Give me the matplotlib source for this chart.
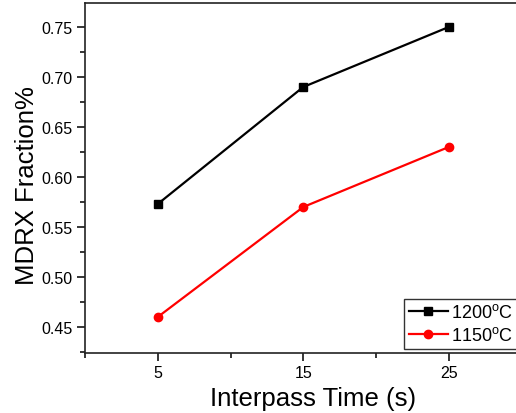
import matplotlib
matplotlib.use("Agg")
import matplotlib.pyplot as plt
from matplotlib.ticker import MultipleLocator

plt.rcParams['font.family'] = ['Liberation Sans', 'DejaVu Sans']
plt.rcParams['mathtext.fontset'] = 'custom'
plt.rcParams['mathtext.rm'] = 'Liberation Sans'
plt.rcParams['mathtext.it'] = 'Liberation Sans'

interpass_time = [5, 15, 25]
frac_1200 = [0.573, 0.690, 0.750]
frac_1150 = [0.460, 0.570, 0.630]
labels = ["1200$^\\mathrm{o}$C", "1150$^\\mathrm{o}$C"]

fig = plt.figure(figsize=(5.16, 4.14), dpi=100)
ax = fig.add_axes([85 / 516, 60 / 414, 436.5 / 516, 350 / 414])

ax.plot(interpass_time, frac_1200, color='black', marker='s', markersize=6,
        linewidth=1.6, label=labels[0])
ax.plot(interpass_time, frac_1150, color='red', marker='o', markersize=6,
        linewidth=1.6, label=labels[1])

ax.set_xlim(0, 30)
ax.set_ylim(0.424, 0.774)
ax.set_xticks([5, 15, 25])
ax.xaxis.set_minor_locator(MultipleLocator(5))
ax.yaxis.set_minor_locator(MultipleLocator(0.025))
ax.set_yticks([0.45, 0.50, 0.55, 0.60, 0.65, 0.70, 0.75])
ax.set_yticklabels(['%.2f' % v for v in ax.get_yticks()])

ax.tick_params(which='major', direction='out', length=6, width=1.1, labelsize=11.5,
               top=False, right=False, pad=3)
ax.tick_params(which='minor', direction='out', length=3.5, width=1.1,
               top=False, right=False)
for sp in ax.spines.values():
    sp.set_linewidth(1.2)
    sp.set_color('#222222')

ax.set_xlabel('Interpass Time (s)', fontsize=18.5)
ax.set_ylabel('MDRX Fraction%', fontsize=18.5)
ax.xaxis.set_label_coords(228 / 436.5, -33 / 350, transform=ax.transAxes)
ax.yaxis.set_label_coords(-46 / 436.5, 168 / 350, transform=ax.transAxes)

leg = ax.legend(loc='lower left', bbox_to_anchor=(404 / 516, 64 / 414),
                bbox_transform=fig.transFigure, fontsize=13, frameon=True,
                fancybox=False, edgecolor='black', handlelength=2.2,
                handletextpad=0.15, borderpad=0.25, labelspacing=0.3,
                borderaxespad=0)
leg.get_frame().set_linewidth(1.0)

fig.savefig('out.png', dpi=100)
